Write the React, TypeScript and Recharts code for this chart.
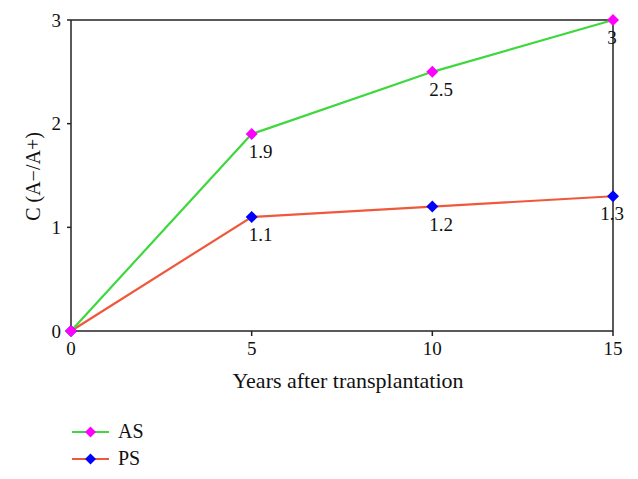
import { LineChart, Line, XAxis, YAxis, ReferenceLine, Legend } from 'recharts'

const years = [0, 5, 10, 15]
const asValues = [0, 1.9, 2.5, 3]
const psValues = [0, 1.1, 1.2, 1.3]
const yTicks = [0, 1, 2, 3]
const seriesNames = ['AS', 'PS']

const FONT = '"Liberation Serif", "DejaVu Serif", serif'
const AS_LINE = '#3ed83e'
const AS_DOT = '#ff00ff'
const PS_LINE = '#f0583c'
const PS_DOT = '#0000ff'

const data = years.map((year, i) => ({ year, AS: asValues[i], PS: psValues[i] }))

const makeDiamond = (fill: string) => (props: any) => {
  const { cx, cy, index } = props
  if (cx == null || cy == null) return <g key={index} />
  const r = 6
  return (
    <polygon
      key={index}
      points={`${cx},${cy - r} ${cx + r},${cy} ${cx},${cy + r} ${cx - r},${cy}`}
      fill={fill}
    />
  )
}

function ValueLabel(props: any) {
  const { x, y, value } = props
  if (!value) return null
  const nearEdge = x > 600
  return (
    <text
      x={nearEdge ? x - 1 : x - 3}
      y={y + 24}
      textAnchor={nearEdge ? 'middle' : 'start'}
      fontFamily={FONT}
      fontSize={19}
      fill="#111"
    >
      {value}
    </text>
  )
}

function LegendBox() {
  const colors = [
    [AS_LINE, AS_DOT],
    [PS_LINE, PS_DOT],
  ]
  return (
    <div>
      {seriesNames.map((name, i) => (
        <div key={name} style={{ display: 'flex', alignItems: 'center', height: 27 }}>
          <svg width={40} height={14}>
            <line x1={0} y1={7} x2={37} y2={7} stroke={colors[i][0]} strokeWidth={2.2} />
            <polygon points="18.5,1.5 24,7 18.5,12.5 13,7" fill={colors[i][1]} />
          </svg>
          <span style={{ fontFamily: FONT, fontSize: 20, color: '#111', marginLeft: 6 }}>{name}</span>
        </div>
      ))}
    </div>
  )
}

const tickStyle = { fontFamily: FONT, fontSize: 19, fill: '#111' }

export default function App() {
  return (
    <div style={{ position: 'absolute', left: 0, top: 0, background: '#fff' }}>
      <LineChart width={638} height={479} data={data} margin={{ top: 20, right: 25, bottom: 88, left: 0 }}>
        <XAxis
          dataKey="year"
          type="number"
          domain={[0, 15]}
          ticks={years}
          tick={tickStyle}
          tickSize={5}
          tickMargin={6}
          height={60}
          stroke="#222"
          strokeWidth={1.5}
          label={{
            content: (p: any) => {
              const vb = p.viewBox
              return (
                <text x={vb.x + vb.width / 2 + 6} y={vb.y + 57} textAnchor="middle" fontFamily={FONT} fontSize={22} fill="#111">
                  Years after transplantation
                </text>
              )
            },
          }}
        />
        <YAxis
          type="number"
          domain={[0, 3]}
          ticks={yTicks}
          tick={tickStyle}
          tickSize={4}
          tickMargin={6}
          width={71}
          stroke="#222"
          strokeWidth={1.5}
          label={{
            content: (p: any) => {
              const vb = p.viewBox
              const cy = vb.y + vb.height / 2 + 1
              return (
                <text x={33} y={cy} transform={`rotate(-90 33 ${cy})`} textAnchor="middle" dominantBaseline="central" fontFamily={FONT} fontSize={20} fill="#111">
                  C (A−/A+)
                </text>
              )
            },
          }}
        />
        <ReferenceLine y={3} stroke="#222" strokeWidth={1.5} />
        <ReferenceLine x={15} stroke="#222" strokeWidth={1.5} />
        <Line
          dataKey="PS"
          stroke={PS_LINE}
          strokeWidth={2.2}
          dot={makeDiamond(PS_DOT)}
          activeDot={false}
          label={<ValueLabel />}
          isAnimationActive={false}
        />
        <Line
          dataKey="AS"
          stroke={AS_LINE}
          strokeWidth={2.2}
          dot={makeDiamond(AS_DOT)}
          activeDot={false}
          label={<ValueLabel />}
          isAnimationActive={false}
        />
        <Legend
          layout="vertical"
          align="center"
          verticalAlign="middle"
          wrapperStyle={{ left: 72, top: 418, width: 140, height: 60 }}
          content={() => <LegendBox />}
        />
      </LineChart>
    </div>
  )
}
